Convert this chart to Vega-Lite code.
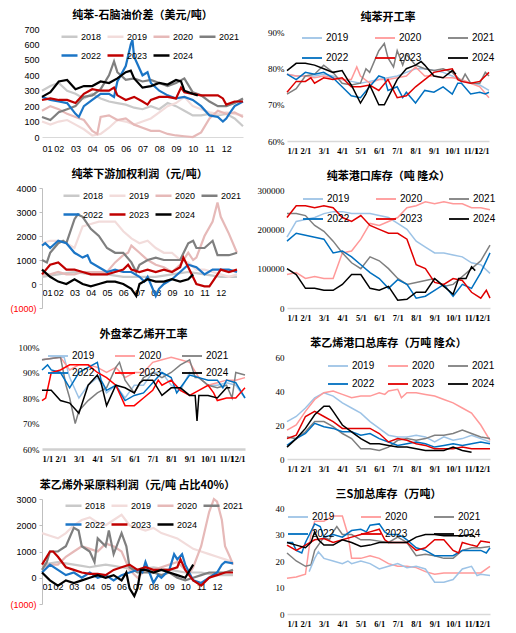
{
"$schema": "https://vega.github.io/schema/vega-lite/v6.json",
"background": "white",
"padding": {"left": 5, "top": 10, "right": 5, "bottom": 0},
"config": {
  "view": {"stroke": null},
  "font": "Liberation Sans",
  "axis": {"grid": false, "labelFontSize": 9, "labelColor": "#000000", "domainColor": "#d9d9d9", "ticks": false, "labelPadding": 3, "title": null},
  "axisX": {"labelOverlap": false, "labelPadding": 5},
  "title": {"font": "Noto Sans CJK SC", "fontSize": 11, "fontWeight": "bold", "anchor": "middle", "offset": 0, "color": "#000000"},
  "legend": {"orient": "none", "direction": "horizontal", "title": null, "symbolType": "stroke", "labelFontSize": 9, "labelColor": "#000000", "rowPadding": 4, "labelOffset": 3},
  "line": {"clip": true}
},
"resolve": {"scale": {"color": "independent"}, "legend": {"color": "independent"}},
"datasets": {
"p1": [
{"x":1,"2018":300,"2019":100,"2020":170,"2021":130,"2022":260,"2023":240,"2024":260},
{"x":1.5,"2018":330,"2019":80,"2020":200,"2021":110,"2022":240,"2023":250,"2024":290},
{"x":2,"2018":350,"2019":100,"2020":180,"2021":160,"2022":230,"2023":240,"2024":360},
{"x":2.5,"2018":300,"2019":110,"2020":150,"2021":180,"2022":220,"2023":240,"2024":370},
{"x":3,"2018":280,"2019":80,"2020":130,"2021":200,"2022":150,"2023":220,"2024":310},
{"x":3.2,"2022":130},
{"x":3.5,"2018":250,"2019":50,"2020":110,"2021":260,"2022":200,"2023":280,"2024":330},
{"x":4,"2018":280,"2019":10,"2020":40,"2021":270,"2022":240,"2023":310,"2024":330},
{"x":4.3,"2020":20},
{"x":4.5,"2018":250,"2019":20,"2020":130,"2021":310,"2022":280,"2023":300,"2024":360},
{"x":5,"2018":230,"2019":60,"2020":140,"2021":400,"2022":280,"2023":300,"2024":350},
{"x":5.3,"2021":490,"2022":260,"2023":320},
{"x":5.5,"2018":220,"2019":110,"2020":110,"2021":420,"2022":360,"2023":270,"2024":380},
{"x":6,"2018":210,"2019":100,"2020":120,"2021":370,"2022":460,"2023":240,"2024":420},
{"x":6.3,"2022":600,"2024":430},
{"x":6.4,"2022":630},
{"x":6.5,"2018":190,"2019":80,"2020":80,"2021":380,"2022":520,"2023":260,"2024":380},
{"x":7,"2018":180,"2019":100,"2020":60,"2021":360,"2022":400,"2023":230,"2024":320},
{"x":7.3,"2022":420,"2023":210},
{"x":7.5,"2018":200,"2019":120,"2020":40,"2021":370,"2022":350,"2023":240,"2024":330},
{"x":8,"2018":180,"2019":160,"2020":40,"2021":350,"2022":300,"2023":260,"2024":350},
{"x":8.5,"2018":220,"2019":200,"2020":20,"2021":330,"2022":270,"2023":260,"2024":340},
{"x":9,"2018":200,"2019":220,"2020":10,"2021":350,"2022":250,"2023":250,"2024":370},
{"x":9.3,"2023":320,"2024":360},
{"x":9.5,"2018":170,"2019":260,"2020":5,"2021":380,"2022":260,"2023":290,"2024":300},
{"x":10,"2018":140,"2019":200,"2020":0,"2021":290,"2022":240,"2023":280,"2024":280},
{"x":10.3,"2024":270},
{"x":10.5,"2018":140,"2019":180,"2020":30,"2021":270,"2022":200,"2023":270},
{"x":11,"2018":150,"2019":160,"2020":120,"2021":230,"2022":140,"2023":270},
{"x":11.5,"2018":140,"2019":150,"2020":170,"2021":200,"2022":130,"2023":270},
{"x":11.8,"2022":100,"2023":250},
{"x":12,"2018":150,"2019":160,"2020":150,"2021":200,"2022":120,"2023":210},
{"x":12.3,"2022":170},
{"x":12.5,"2018":120,"2019":150,"2020":160,"2021":220,"2022":200,"2023":230},
{"x":13,"2018":70,"2019":140,"2020":130,"2021":250,"2022":230,"2023":230}
],
"p2": [
{"x":1,"2019":78.5,"2020":78.5,"2021":73,"2022":78.5,"2023":73.5,"2024":79.5},
{"x":1.5,"2019":78,"2020":78,"2021":74.5,"2022":77,"2023":76.5,"2024":81.5},
{"x":2,"2019":78,"2020":78,"2021":78,"2022":79,"2023":76.5,"2024":81.5},
{"x":2.3,"2023":77.5},
{"x":2.5,"2019":78,"2020":77.5,"2021":78.5,"2022":78.5,"2023":76,"2024":81},
{"x":3,"2019":78.5,"2020":78,"2021":81,"2022":79,"2023":77.5,"2024":80},
{"x":3.5,"2019":78,"2020":77.5,"2021":79,"2022":77.5,"2023":77,"2024":79},
{"x":4,"2019":77,"2020":77,"2021":76,"2022":75,"2023":77.5,"2024":79.5},
{"x":4.3,"2024":77},
{"x":4.5,"2019":76.5,"2020":77,"2021":75.5,"2022":72.5,"2023":75,"2024":75.5},
{"x":4.8,"2020":80.5},
{"x":5,"2019":76,"2020":78,"2021":76,"2022":72,"2023":75,"2024":70.5},
{"x":5.3,"2021":80,"2024":73},
{"x":5.5,"2019":76.5,"2020":76,"2021":79,"2022":75,"2023":75.5,"2024":75.5},
{"x":6,"2019":77,"2020":77,"2021":85,"2022":78,"2023":74,"2024":70},
{"x":6.3,"2021":87,"2022":77.5,"2024":70},
{"x":6.5,"2019":77.5,"2020":77,"2021":83,"2022":74,"2023":77,"2024":72},
{"x":6.8,"2021":80.5},
{"x":7,"2019":78,"2020":77.5,"2021":85,"2022":75,"2023":72,"2024":77},
{"x":7.3,"2021":81,"2022":72},
{"x":7.5,"2019":79,"2020":78,"2021":84,"2022":73.5,"2023":72.5,"2024":80},
{"x":8,"2019":80,"2020":80.5,"2021":81,"2022":70.5,"2023":75,"2024":81},
{"x":8.3,"2024":82},
{"x":8.5,"2019":80,"2020":78,"2021":80,"2022":74,"2023":77,"2024":81},
{"x":9,"2019":79.5,"2020":78,"2021":79.5,"2022":73.5,"2023":79,"2024":78},
{"x":9.5,"2019":79,"2020":77.5,"2021":80,"2022":75,"2023":79.5,"2024":77.5},
{"x":10,"2019":78,"2020":77.5,"2021":79,"2022":73,"2023":80,"2024":79.5},
{"x":10.2,"2024":78.5},
{"x":10.3,"2022":76,"2023":77},
{"x":10.5,"2019":76.5,"2020":77,"2021":76.5,"2022":76,"2023":76.5},
{"x":10.7,"2021":78.5},
{"x":11,"2019":76,"2020":76,"2021":76,"2022":73,"2023":76},
{"x":11.5,"2019":75.5,"2020":75,"2021":76,"2022":73.5,"2023":76.5},
{"x":11.8,"2021":79,"2022":73,"2023":78},
{"x":12,"2019":74,"2020":72,"2021":78,"2022":73.5,"2023":79}
],
"p3": [
{"x":1,"2018":300,"2019":1700,"2020":400,"2021":1000,"2022":1600,"2023":400,"2024":600},
{"x":1.2,"2022":1700},
{"x":1.3,"2021":900},
{"x":1.5,"2018":350,"2019":1800,"2020":400,"2021":1300,"2022":1500,"2023":800,"2024":300},
{"x":2,"2018":400,"2019":1800,"2020":500,"2021":1700,"2022":1800,"2023":900,"2024":100},
{"x":2.3,"2021":1800},
{"x":2.5,"2018":450,"2019":1700,"2020":400,"2021":1700,"2022":1700,"2023":600,"2024":0},
{"x":3,"2018":500,"2019":1500,"2020":400,"2021":2700,"2022":1300,"2023":600,"2024":200},
{"x":3.2,"2021":2900},
{"x":3.5,"2018":450,"2019":2400,"2020":500,"2021":2800,"2022":1100,"2023":500,"2024":0},
{"x":3.8,"2022":1200},
{"x":4,"2018":400,"2019":2500,"2020":500,"2021":2300,"2022":900,"2023":400,"2024":-100},
{"x":4.5,"2018":400,"2019":2600,"2020":500,"2021":2000,"2022":700,"2023":400,"2024":0},
{"x":5,"2018":400,"2019":2600,"2020":500,"2021":1500,"2022":500,"2023":400,"2024":100},
{"x":5.5,"2018":350,"2019":2600,"2020":900,"2021":1300,"2022":600,"2023":500,"2024":100},
{"x":6,"2018":300,"2019":2200,"2020":1200,"2021":1300,"2022":500,"2023":600,"2024":0},
{"x":6.3,"2020":1300,"2023":800},
{"x":6.5,"2018":300,"2019":1900,"2020":1600,"2021":900,"2022":500,"2023":600,"2024":-200},
{"x":6.8,"2021":500,"2024":-500},
{"x":7,"2018":300,"2019":1700,"2020":1300,"2021":800,"2022":300,"2023":500,"2024":0},
{"x":7.3,"2022":100},
{"x":7.5,"2018":300,"2019":1800,"2020":1000,"2021":1000,"2022":300,"2023":600,"2024":200},
{"x":8,"2018":300,"2019":1500,"2020":800,"2021":1100,"2022":-500,"2023":500,"2024":100},
{"x":8.2,"2022":-200},
{"x":8.5,"2018":350,"2019":1300,"2020":700,"2021":1000,"2022":0,"2023":600,"2024":100},
{"x":9,"2018":400,"2019":1300,"2020":500,"2021":1000,"2022":200,"2023":500,"2024":200},
{"x":9.5,"2018":450,"2019":1000,"2020":800,"2021":1000,"2022":500,"2023":700,"2024":100},
{"x":9.7,"2023":1100},
{"x":10,"2018":500,"2019":900,"2020":1300,"2021":1700,"2022":800,"2023":700,"2024":200},
{"x":10.3,"2020":1000,"2021":1800,"2024":400},
{"x":10.5,"2018":450,"2019":600,"2020":1100,"2021":1500,"2022":700,"2023":0},
{"x":11,"2018":400,"2019":600,"2020":2000,"2021":1500,"2022":400,"2023":-100},
{"x":11.3,"2023":-100},
{"x":11.5,"2018":350,"2019":500,"2020":2600,"2021":1800,"2022":600,"2023":100},
{"x":11.8,"2020":3400,"2021":1200},
{"x":12,"2018":300,"2019":400,"2020":2800,"2021":1200,"2022":600,"2023":600},
{"x":12.5,"2018":300,"2019":300,"2020":2100,"2021":1200,"2022":600,"2023":500},
{"x":13,"2018":300,"2019":400,"2020":1300,"2021":1300,"2022":500,"2023":600}
],
"p4": [
{"x":1,"2019":180000,"2020":85000,"2021":240000,"2022":170000,"2023":230000,"2024":100000},
{"x":1.5,"2019":220000,"2020":90000,"2021":240000,"2022":190000,"2023":260000,"2024":85000},
{"x":2,"2019":225000,"2020":75000,"2021":235000,"2022":185000,"2023":260000,"2024":50000},
{"x":2.5,"2019":230000,"2020":80000,"2021":210000,"2022":180000,"2023":255000,"2024":50000},
{"x":3,"2019":240000,"2020":75000,"2021":195000,"2022":175000,"2023":260000,"2024":45000},
{"x":3.5,"2019":245000,"2020":75000,"2021":170000,"2022":140000,"2023":255000,"2024":45000},
{"x":4,"2019":245000,"2020":140000,"2021":140000,"2022":145000,"2023":230000,"2024":60000},
{"x":4.5,"2019":240000,"2020":145000,"2021":115000,"2022":130000,"2023":220000,"2024":85000},
{"x":5,"2019":240000,"2020":175000,"2021":100000,"2022":110000,"2023":235000,"2024":85000},
{"x":5.5,"2019":240000,"2020":215000,"2021":130000,"2022":90000,"2023":210000,"2024":50000},
{"x":6,"2019":235000,"2020":210000,"2021":120000,"2022":75000,"2023":200000,"2024":45000},
{"x":6.5,"2019":230000,"2020":220000,"2021":100000,"2022":50000,"2023":190000,"2024":55000},
{"x":7,"2019":215000,"2020":230000,"2021":75000,"2022":72000,"2023":190000,"2024":20000},
{"x":7.5,"2019":200000,"2020":255000,"2021":60000,"2022":60000,"2023":175000,"2024":22000},
{"x":8,"2019":170000,"2020":260000,"2021":65000,"2022":25000,"2023":110000,"2024":40000},
{"x":8.5,"2019":155000,"2020":270000,"2021":70000,"2022":30000,"2023":100000,"2024":40000},
{"x":9,"2019":140000,"2020":265000,"2021":75000,"2022":45000,"2023":65000,"2024":75000},
{"x":9.5,"2019":140000,"2020":270000,"2021":55000,"2022":60000,"2023":60000,"2024":55000},
{"x":10,"2019":135000,"2020":265000,"2021":60000,"2022":30000,"2023":75000,"2024":35000},
{"x":10.3,"2024":75000},
{"x":10.5,"2019":130000,"2020":265000,"2021":80000,"2022":60000,"2023":70000},
{"x":10.7,"2024":75000},
{"x":11,"2019":115000,"2020":255000,"2021":100000,"2022":50000,"2023":40000,"2024":105000},
{"x":11.2,"2024":95000},
{"x":11.5,"2019":110000,"2020":255000,"2021":120000,"2022":90000,"2023":25000},
{"x":11.8,"2023":45000},
{"x":12,"2019":88000,"2020":250000,"2021":160000,"2022":140000,"2023":25000}
],
"p5": [
{"x":1,"2019":95,"2020":95,"2021":95,"2022":91,"2023":79,"2024":83},
{"x":1.2,"2023":80},
{"x":1.3,"2022":93},
{"x":1.5,"2019":95.5,"2020":95.5,"2021":95.5,"2022":91,"2023":90,"2024":83},
{"x":2,"2019":96,"2020":96,"2021":96,"2022":90,"2023":91,"2024":79},
{"x":2.2,"2019":96},
{"x":2.3,"2021":85},
{"x":2.5,"2019":88,"2020":91,"2021":80,"2022":84,"2023":93,"2024":78},
{"x":2.8,"2021":70},
{"x":3,"2019":80,"2020":93,"2021":75,"2022":90,"2023":93,"2024":74},
{"x":3.5,"2019":85,"2020":93,"2021":79,"2022":92,"2023":93,"2024":85},
{"x":4,"2019":88,"2020":92,"2021":82,"2022":94,"2023":90,"2024":89},
{"x":4.2,"2022":87,"2024":86},
{"x":4.5,"2019":82,"2020":90,"2021":84,"2022":83,"2023":88,"2024":77},
{"x":5,"2019":85,"2020":92,"2021":92,"2022":85,"2023":85,"2024":85},
{"x":5.2,"2021":94},
{"x":5.5,"2019":80,"2020":88,"2021":87,"2022":79,"2023":77,"2024":84},
{"x":6,"2019":85,"2020":90,"2021":82,"2022":81,"2023":77,"2024":82},
{"x":6.3,"2024":86},
{"x":6.5,"2019":85,"2020":90,"2021":88,"2022":82,"2023":80,"2024":87},
{"x":7,"2019":90,"2020":94,"2021":90,"2022":86,"2023":83,"2024":87},
{"x":7.3,"2023":87},
{"x":7.5,"2019":90,"2020":95,"2021":88,"2022":90,"2023":85,"2024":81},
{"x":8,"2019":85,"2020":96,"2021":90,"2022":88,"2023":87,"2024":84},
{"x":8.3,"2022":82},
{"x":8.5,"2019":83,"2020":95,"2021":93,"2022":84,"2023":83,"2024":84},
{"x":9,"2019":90,"2020":94,"2021":95,"2022":89,"2023":81,"2024":81},
{"x":9.3,"2021":88,"2024":81},
{"x":9.4,"2024":71},
{"x":9.5,"2019":88,"2020":88,"2021":88,"2022":88,"2023":83,"2024":81},
{"x":10,"2019":85,"2020":85,"2021":85,"2022":87,"2023":85,"2024":81},
{"x":10.3,"2023":82},
{"x":10.5,"2019":85,"2020":86,"2021":84,"2022":87,"2023":79,"2024":80},
{"x":10.8,"2022":84},
{"x":11,"2019":86,"2020":87,"2021":85,"2022":87,"2023":80,"2024":84},
{"x":11.2,"2024":84},
{"x":11.3,"2021":80},
{"x":11.5,"2019":85,"2020":87,"2021":90,"2022":86,"2023":80},
{"x":12,"2019":80,"2020":88,"2021":89,"2022":80,"2023":84}
],
"p6": [
{"x":1,"2019":22,"2020":17,"2021":13,"2022":8,"2023":12,"2024":7},
{"x":1.5,"2019":25,"2020":20,"2021":12,"2022":12,"2023":14,"2024":12},
{"x":2,"2019":30,"2020":28,"2021":16,"2022":15,"2023":25,"2024":18},
{"x":2.5,"2019":36,"2020":35,"2021":22,"2022":21,"2023":28,"2024":26},
{"x":3,"2019":39,"2020":39,"2021":22,"2022":19,"2023":25,"2024":31},
{"x":3.3,"2024":31},
{"x":3.5,"2019":37,"2020":40,"2021":19,"2022":18,"2023":22,"2024":28},
{"x":4,"2019":33,"2020":38,"2021":15,"2022":16,"2023":18,"2024":20},
{"x":4.5,"2019":30,"2020":36,"2021":12,"2022":16,"2023":18,"2024":16},
{"x":5,"2019":27,"2020":37,"2021":6,"2022":14,"2023":18,"2024":12},
{"x":5.5,"2019":22,"2020":37,"2021":6,"2022":15,"2023":18,"2024":9},
{"x":6,"2019":18,"2020":39,"2021":5,"2022":12,"2023":15,"2024":9},
{"x":6.3,"2020":38},
{"x":6.5,"2019":14,"2020":40,"2021":7,"2022":10,"2023":10,"2024":8},
{"x":7,"2019":13,"2020":41,"2021":11,"2022":8,"2023":12,"2024":7},
{"x":7.2,"2020":36},
{"x":7.5,"2019":13,"2020":39,"2021":12,"2022":9,"2023":11,"2024":7},
{"x":8,"2019":14,"2020":39,"2021":11,"2022":10,"2023":9,"2024":6},
{"x":8.5,"2019":13,"2020":38,"2021":12,"2022":9,"2023":8,"2024":5},
{"x":9,"2019":10,"2020":37,"2021":14,"2022":7,"2023":6,"2024":5},
{"x":9.5,"2019":13,"2020":35,"2021":14,"2022":8,"2023":6,"2024":5},
{"x":10,"2019":11,"2020":33,"2021":15,"2022":9,"2023":6,"2024":7},
{"x":10.5,"2019":12,"2020":30,"2021":17,"2022":8,"2023":7,"2024":5},
{"x":11,"2019":14,"2020":27,"2021":15,"2022":9,"2023":6,"2024":4},
{"x":11.5,"2019":12,"2020":20,"2021":13,"2022":10,"2023":6},
{"x":12,"2019":10,"2020":11,"2021":12,"2022":9,"2023":6}
],
"p7": [
{"x":1,"2018":500,"2019":1700,"2020":400,"2021":300,"2022":200,"2023":500,"2024":200},
{"x":1.3,"2021":600},
{"x":1.5,"2018":550,"2019":1600,"2020":500,"2021":1000,"2022":500,"2023":1000,"2024":-100},
{"x":1.7,"2023":1000},
{"x":2,"2018":600,"2019":1500,"2020":500,"2021":1000,"2022":300,"2023":800,"2024":-300},
{"x":2.5,"2018":550,"2019":1700,"2020":800,"2021":1200,"2022":100,"2023":400,"2024":-100},
{"x":3,"2018":500,"2019":2000,"2020":1000,"2021":1900,"2022":200,"2023":300,"2024":-200},
{"x":3.3,"2021":1800},
{"x":3.5,"2018":450,"2019":2200,"2020":1200,"2021":1200,"2022":0,"2023":200,"2024":-100},
{"x":4,"2018":400,"2019":2300,"2020":1100,"2021":1000,"2022":200,"2023":150,"2024":0},
{"x":4.3,"2021":600},
{"x":4.5,"2018":450,"2019":2100,"2020":1000,"2021":1500,"2022":0,"2023":150,"2024":100},
{"x":5,"2018":500,"2019":2000,"2020":1300,"2021":1200,"2022":100,"2023":100,"2024":0},
{"x":5.2,"2021":1800},
{"x":5.5,"2018":450,"2019":2200,"2020":1200,"2021":900,"2022":-100,"2023":300,"2024":100},
{"x":6,"2018":400,"2019":2400,"2020":1000,"2021":1700,"2022":100,"2023":400,"2024":-100},
{"x":6.3,"2021":1200,"2024":200},
{"x":6.5,"2018":350,"2019":2000,"2020":300,"2021":400,"2022":200,"2023":500,"2024":-400},
{"x":6.8,"2024":-700},
{"x":7,"2018":300,"2019":1900,"2020":0,"2021":200,"2022":300,"2023":300,"2024":-400},
{"x":7.2,"2024":300},
{"x":7.3,"2022":200},
{"x":7.5,"2018":350,"2019":1800,"2020":300,"2021":200,"2022":600,"2023":400,"2024":300},
{"x":8,"2018":400,"2019":1900,"2020":300,"2021":200,"2022":-200,"2023":300,"2024":200},
{"x":8.3,"2022":100},
{"x":8.5,"2018":350,"2019":1700,"2020":400,"2021":100,"2022":0,"2023":300,"2024":300},
{"x":9,"2018":300,"2019":1600,"2020":500,"2021":200,"2022":300,"2023":300,"2024":200},
{"x":9.3,"2022":900},
{"x":9.5,"2018":250,"2019":1500,"2020":600,"2021":0,"2022":700,"2023":400,"2024":100},
{"x":9.7,"2023":700},
{"x":9.8,"2022":900},
{"x":10,"2018":200,"2019":1300,"2020":300,"2021":-100,"2022":500,"2023":300,"2024":0},
{"x":10.3,"2020":200},
{"x":10.5,"2018":200,"2019":1100,"2020":400,"2021":0,"2022":-100,"2023":-100,"2024":500},
{"x":11,"2018":200,"2019":1000,"2020":1200,"2021":100,"2022":-200,"2023":-300},
{"x":11.5,"2018":150,"2019":900,"2020":2500,"2021":200,"2022":0,"2023":0},
{"x":11.8,"2020":3000},
{"x":12,"2018":100,"2019":800,"2020":2900,"2021":200,"2022":200,"2023":100},
{"x":12.3,"2020":2200,"2022":500},
{"x":12.5,"2018":100,"2019":700,"2020":1200,"2021":200,"2022":600,"2023":200},
{"x":12.8,"2020":800},
{"x":13,"2018":100,"2019":600,"2020":500,"2021":300,"2022":550,"2023":200}
],
"p8": [
{"x":1,"2020":13.5,"2021":23,"2022":27,"2023":26,"2024":27},
{"x":1.3,"2022":27},
{"x":1.5,"2020":14,"2021":20,"2022":24,"2023":24,"2024":26},
{"x":1.8,"2022":23},
{"x":2,"2020":15,"2021":18,"2022":27,"2023":26,"2024":25},
{"x":2.2,"2019":16},
{"x":2.3,"2020":30,"2021":18.5,"2024":27},
{"x":2.5,"2019":21,"2020":35,"2021":24,"2022":34,"2023":28,"2024":31},
{"x":2.7,"2019":23.5,"2024":28},
{"x":2.8,"2022":33},
{"x":3,"2019":21,"2020":35,"2021":29,"2022":29,"2023":28.5,"2024":26},
{"x":3.3,"2021":28},
{"x":3.5,"2019":20,"2020":37,"2021":31,"2022":30,"2023":27,"2024":26},
{"x":3.7,"2021":33},
{"x":4,"2019":19,"2020":37,"2021":30,"2022":29,"2023":28,"2024":28},
{"x":4.3,"2019":20,"2020":30},
{"x":4.5,"2019":19,"2020":21,"2021":30,"2022":31.5,"2023":29,"2024":27},
{"x":5,"2019":20,"2020":21,"2021":28,"2022":32,"2023":30,"2024":25.5},
{"x":5.3,"2022":31},
{"x":5.5,"2019":19,"2020":22,"2021":28,"2022":33.5,"2023":31,"2024":26},
{"x":6,"2019":17,"2020":21,"2021":27.5,"2022":34,"2023":32,"2024":27},
{"x":6.3,"2022":31,"2023":28},
{"x":6.5,"2019":18,"2020":19,"2021":27,"2022":30,"2023":27,"2024":27},
{"x":7,"2019":19,"2020":18,"2021":29,"2022":30,"2023":27,"2024":27},
{"x":7.3,"2022":29},
{"x":7.5,"2019":17.5,"2020":18,"2021":27,"2022":28,"2023":27,"2024":27},
{"x":8,"2019":18,"2020":17.5,"2021":22,"2022":25,"2023":24,"2024":29},
{"x":8.5,"2019":17,"2020":16,"2021":22.5,"2022":24,"2023":25,"2024":30},
{"x":9,"2019":12,"2020":15,"2021":22,"2022":22,"2023":28,"2024":30},
{"x":9.5,"2019":12,"2020":15.5,"2021":21,"2022":22,"2023":28,"2024":29.5},
{"x":10,"2019":13,"2020":15.5,"2021":21,"2022":22,"2023":24,"2024":29.5},
{"x":10.3,"2023":23},
{"x":10.5,"2019":17,"2020":15.5,"2021":24,"2022":24,"2023":27,"2024":29.5},
{"x":11,"2019":18,"2020":15.5,"2021":25,"2022":24,"2023":26,"2024":30},
{"x":11.2,"2024":29},
{"x":11.3,"2019":14.5,"2023":25.5},
{"x":11.5,"2019":15,"2020":15.5,"2021":25,"2022":24,"2023":27.5},
{"x":11.8,"2022":23},
{"x":12,"2019":14.5,"2020":18,"2021":25.5,"2022":25,"2023":27}
]
},
"spacing": 9,
"hconcat": [
{
"spacing": 16,
"resolve": {"scale": {"color": "independent"}, "legend": {"color": "independent"}},
"vconcat": [
{
"title": "纯苯-石脑油价差（美元/吨）",
"width": 201, "height": 108,
"data": {"name": "p1"},
"transform": [{"fold": ["2018","2019","2020","2021","2022","2023","2024"], "as": ["year","v"]}, {"filter": "isValid(datum.v)"}],
"mark": {"type": "line", "strokeWidth": 2.2},
"encoding": {
"x": {"field": "x", "type": "quantitative", "scale": {"domain": [1, 13], "nice": false}, "axis": {"values": [1,2,3,4,5,6,7,8,9,10,11,12], "labelExpr": "datum.value < 10 ? '0' + datum.value : '' + datum.value", "labelPadding": 7}},
"y": {"field": "v", "type": "quantitative", "scale": {"domain": [0, 700], "nice": false}, "axis": {"values": [0,100,200,300,400,500,600,700], "domain": false, "minExtent": 37}},
"color": {"field": "year", "type": "nominal", "scale": {"domain": ["2018","2019","2020","2021","2022","2023","2024"], "range": ["#C9C9C9","#F2DCDB","#E6B9B8","#7F7F7F","#1B75C6","#C00000","#000000"]},
"legend": {"columns": 4, "legendX": 18, "legendY": -2, "symbolSize": 256, "symbolStrokeWidth": 2.5, "columnPadding": 0, "labelOffset": 2}}
}
},
{
"title": "纯苯下游加权利润（元/吨）",
"width": 195, "height": 120,
"data": {"name": "p3"},
"transform": [{"fold": ["2018","2019","2020","2021","2022","2023","2024"], "as": ["year","v"]}, {"filter": "isValid(datum.v)"}],
"mark": {"type": "line", "strokeWidth": 2.2},
"encoding": {
"x": {"field": "x", "type": "quantitative", "scale": {"domain": [1, 13], "nice": false}, "axis": {"values": [1,2,3,4,5,6,7,8,9,10,11,12], "labelExpr": "datum.value < 10 ? '0' + datum.value : '' + datum.value", "domain": false, "offset": -24, "labelPadding": 4}},
"y": {"field": "v", "type": "quantitative", "scale": {"domain": [-1000, 4000], "nice": false}, "axis": {"values": [-1000,0,1000,2000,3000,4000], "labelExpr": "datum.value < 0 ? '(' + (-datum.value) + ')' : '' + datum.value", "labelColor": {"condition": {"test": "datum.value < 0", "value": "#FF0000"}, "value": "#000000"}, "domainColor": "#BFBFBF", "ticks": true, "tickColor": "#BFBFBF", "tickSize": 3, "minExtent": 37}},
"color": {"field": "year", "type": "nominal", "scale": {"domain": ["2018","2019","2020","2021","2022","2023","2024"], "range": ["#C9C9C9","#F2DCDB","#E6B9B8","#7F7F7F","#1B75C6","#C00000","#000000"]},
"legend": {"columns": 4, "legendX": 20, "legendY": -2, "symbolSize": 256, "symbolStrokeWidth": 2.5, "columnPadding": 0, "labelOffset": 2}}
}
},
{
"title": {"text": "外盘苯乙烯开工率", "offset": 3},
"width": 203, "height": 102,
"data": {"name": "p5"},
"transform": [{"fold": ["2019","2020","2021","2022","2023","2024"], "as": ["year","v"]}, {"filter": "isValid(datum.v)"}],
"mark": {"type": "line", "strokeWidth": 1.5},
"encoding": {
"x": {"field": "x", "type": "quantitative", "scale": {"domain": [1, 12], "nice": false}, "axis": {"values": [1,2,3,4,5,6,7,8,9,10,11,12], "labelExpr": "datum.value + '/1'", "labelFont": "Liberation Serif", "labelFontWeight": "bold", "labelFontSize": 8.5, "domainColor": "#D0D0D0", "domainWidth": 2.5}},
"y": {"field": "v", "type": "quantitative", "scale": {"domain": [60, 100], "nice": false}, "axis": {"values": [60,70,80,90,100], "labelExpr": "datum.value + '%'", "domain": false, "minExtent": 37, "labelFont": "Liberation Serif"}},
"color": {"field": "year", "type": "nominal", "scale": {"domain": ["2019","2020","2021","2022","2023","2024"], "range": ["#9DC3E6","#FF9999","#7F7F7F","#0070C0","#FF0000","#000000"]},
"legend": {"columns": 3, "legendX": 5, "legendY": -2, "symbolSize": 400, "symbolStrokeWidth": 1.8, "columnPadding": 16, "labelFontSize": 10, "rowPadding": 1}}
}
},
{
"title": "苯乙烯外采原料利润（元/吨 占比40%）",
"width": 191, "height": 105,
"data": {"name": "p7"},
"transform": [{"fold": ["2018","2019","2020","2021","2022","2023","2024"], "as": ["year","v"]}, {"filter": "isValid(datum.v)"}],
"mark": {"type": "line", "strokeWidth": 2.2},
"encoding": {
"x": {"field": "x", "type": "quantitative", "scale": {"domain": [1, 13], "nice": false}, "axis": {"values": [1,2,3,4,5,6,7,8,9,10,11,12], "labelExpr": "datum.value < 10 ? '0' + datum.value : '' + datum.value", "domain": false, "offset": -26, "labelPadding": 4}},
"y": {"field": "v", "type": "quantitative", "scale": {"domain": [-1000, 3000], "nice": false}, "axis": {"values": [-1000,0,1000,2000,3000], "labelExpr": "datum.value < 0 ? '(' + (-datum.value) + ')' : '' + datum.value", "labelColor": {"condition": {"test": "datum.value < 0", "value": "#FF0000"}, "value": "#000000"}, "domainColor": "#BFBFBF", "ticks": true, "tickColor": "#BFBFBF", "tickSize": 3, "minExtent": 37}},
"color": {"field": "year", "type": "nominal", "scale": {"domain": ["2018","2019","2020","2021","2022","2023","2024"], "range": ["#C9C9C9","#F2DCDB","#E6B9B8","#7F7F7F","#1B75C6","#C00000","#000000"]},
"legend": {"columns": 4, "legendX": 22, "legendY": -3, "symbolSize": 256, "symbolStrokeWidth": 2.5, "columnPadding": 0, "labelOffset": 2}}
}
}
]
},
{
"spacing": 16,
"resolve": {"scale": {"color": "independent"}, "legend": {"color": "independent"}},
"vconcat": [
{
"title": "纯苯开工率",
"width": 202, "height": 112,
"data": {"name": "p2"},
"transform": [{"fold": ["2019","2020","2021","2022","2023","2024"], "as": ["year","v"]}, {"filter": "isValid(datum.v)"}],
"mark": {"type": "line", "strokeWidth": 1.5},
"encoding": {
"x": {"field": "x", "type": "quantitative", "scale": {"domain": [1, 12], "nice": false}, "axis": {"values": [1,2,3,4,5,6,7,8,9,10,11,12], "labelExpr": "datum.value + '/1'", "labelFont": "Liberation Serif", "labelFontWeight": "bold", "labelFontSize": 8.5, "domainWidth": 1.5}},
"y": {"field": "v", "type": "quantitative", "scale": {"domain": [60, 91], "nice": false}, "axis": {"values": [60,70,80,90], "labelExpr": "datum.value + '%'", "domain": false, "minExtent": 30, "labelFont": "Liberation Serif"}},
"color": {"field": "year", "type": "nominal", "scale": {"domain": ["2019","2020","2021","2022","2023","2024"], "range": ["#9DC3E6","#FF9999","#7F7F7F","#0070C0","#E00000","#000000"]},
"legend": {"columns": 3, "legendX": 14, "legendY": -2, "symbolSize": 400, "symbolStrokeWidth": 1.8, "columnPadding": 22, "labelFontSize": 10}}
}
},
{
"title": "纯苯港口库存（吨 隆众）",
"width": 203, "height": 118,
"data": {"name": "p4"},
"transform": [{"fold": ["2019","2020","2021","2022","2023","2024"], "as": ["year","v"]}, {"filter": "isValid(datum.v)"}],
"mark": {"type": "line", "strokeWidth": 1.5},
"encoding": {
"x": {"field": "x", "type": "quantitative", "scale": {"domain": [1, 12], "nice": false}, "axis": {"values": [1,2,3,4,5,6,7,8,9,10,11,12], "labelExpr": "datum.value + '/1'", "labelFont": "Liberation Serif", "labelFontWeight": "bold", "labelFontSize": 8.5, "domainWidth": 1.5}},
"y": {"field": "v", "type": "quantitative", "scale": {"domain": [0, 300000], "nice": false}, "axis": {"values": [0,100000,200000,300000], "format": "d", "domain": false, "minExtent": 30, "labelFont": "Liberation Serif"}},
"color": {"field": "year", "type": "nominal", "scale": {"domain": ["2019","2020","2021","2022","2023","2024"], "range": ["#9DC3E6","#FF9999","#7F7F7F","#0070C0","#E00000","#000000"]},
"legend": {"columns": 3, "legendX": 15, "legendY": -2, "symbolSize": 400, "symbolStrokeWidth": 1.8, "columnPadding": 22, "labelFontSize": 10}}
}
},
{
"title": "苯乙烯港口总库存（万吨 隆众）",
"width": 203, "height": 102,
"data": {"name": "p6"},
"transform": [{"fold": ["2019","2020","2021","2022","2023","2024"], "as": ["year","v"]}, {"filter": "isValid(datum.v)"}],
"mark": {"type": "line", "strokeWidth": 1.5},
"encoding": {
"x": {"field": "x", "type": "quantitative", "scale": {"domain": [1, 12], "nice": false}, "axis": {"values": [1,2,3,4,5,6,7,8,9,10,11,12], "labelExpr": "datum.value + '/1'", "labelFont": "Liberation Serif", "labelFontWeight": "bold", "labelFontSize": 8.5, "domainWidth": 1.5}},
"y": {"field": "v", "type": "quantitative", "scale": {"domain": [0, 60], "nice": false}, "axis": {"values": [0,20,40,60], "domain": false, "minExtent": 30, "labelFont": "Liberation Serif"}},
"color": {"field": "year", "type": "nominal", "scale": {"domain": ["2019","2020","2021","2022","2023","2024"], "range": ["#9DC3E6","#FF9999","#7F7F7F","#0070C0","#E00000","#000000"]},
"legend": {"columns": 3, "legendX": 40, "legendY": -2, "symbolSize": 400, "symbolStrokeWidth": 1.8, "columnPadding": 9, "labelFontSize": 10, "rowPadding": 2}}
}
},
{
"title": "三S加总库存（万吨）",
"width": 203, "height": 106,
"data": {"name": "p8"},
"transform": [{"fold": ["2019","2020","2021","2022","2023","2024"], "as": ["year","v"]}, {"filter": "isValid(datum.v)"}],
"mark": {"type": "line", "strokeWidth": 1.5},
"encoding": {
"x": {"field": "x", "type": "quantitative", "scale": {"domain": [1, 12], "nice": false}, "axis": {"values": [1,2,3,4,5,6,7,8,9,10,11,12], "labelExpr": "datum.value + '/1'", "labelFont": "Liberation Serif", "labelFontWeight": "bold", "labelFontSize": 8.5, "domainWidth": 1.5}},
"y": {"field": "v", "type": "quantitative", "scale": {"domain": [0, 40], "nice": false}, "axis": {"values": [0,10,20,30,40], "domain": false, "minExtent": 30, "labelFont": "Liberation Serif"}},
"color": {"field": "year", "type": "nominal", "scale": {"domain": ["2019","2020","2021","2022","2023","2024"], "range": ["#9DC3E6","#FF9999","#7F7F7F","#0070C0","#E00000","#000000"]},
"legend": {"columns": 3, "legendX": 0, "legendY": -2, "symbolSize": 400, "symbolStrokeWidth": 1.8, "columnPadding": 22, "labelFontSize": 10, "rowPadding": 1}}
}
}
]
}
]
}
